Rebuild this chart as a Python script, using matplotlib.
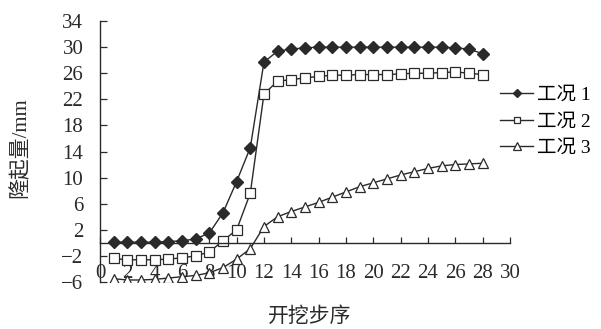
import matplotlib.pyplot as plt

# excavation steps and heave values (mm) for the three cases
steps = list(range(1, 29))
case1 = [0.1, 0.1, 0.1, 0.1, 0.2, 0.3, 0.6, 1.5, 4.6, 9.4, 14.6, 27.7, 29.4, 29.7,
         29.9, 30.0, 30.0, 30.0, 30.0, 30.0, 30.0, 30.0, 30.0, 30.0, 30.0, 29.9, 29.7, 29.0]
case2 = [-2.4, -2.6, -2.6, -2.6, -2.5, -2.3, -2.0, -1.4, 0.3, 2.0, 7.6, 22.8, 24.8, 25.0,
         25.3, 25.5, 25.7, 25.7, 25.8, 25.8, 25.8, 25.9, 26.0, 26.0, 26.1, 26.2, 26.0, 25.8]
case3 = [-5.5, -5.7, -5.7, -5.6, -5.4, -5.2, -5.0, -4.6, -3.8, -2.5, -0.9, 2.5, 4.0, 4.8,
         5.5, 6.2, 7.0, 7.8, 8.6, 9.2, 9.8, 10.4, 10.9, 11.4, 11.8, 12.0, 12.1, 12.2]
labels = ['工况 1', '工况 2', '工况 3']
xticks = list(range(0, 31, 2))
yticks = list(range(-6, 35, 4))

fonts = ['Liberation Serif', 'Noto Sans CJK SC']
plt.rcParams['font.family'] = fonts
ink = '#2a2a2a'

fig = plt.figure(figsize=(6.01, 3.29), dpi=100)
ax = fig.add_axes([0.1664, 0.143, 0.682, 0.793])

line_kw = dict(color=ink, lw=1.0)
ax.plot(steps, case1, marker='D', ms=6.5, mfc=ink, mec=ink, label=labels[0], **line_kw)
ax.plot(steps, case2, marker='s', ms=7, mfc='white', mec=ink, mew=0.9, label=labels[1], **line_kw)
ax.plot(steps, case3, marker='^', ms=7.5, mfc='white', mec=ink, mew=0.9, label=labels[2], **line_kw)

ax.set_xlim(0, 30)
ax.set_ylim(-6, 34)
ax.set_xticks(xticks)
ax.set_yticks(yticks)

ax.spines['top'].set_visible(False)
ax.spines['right'].set_visible(False)
ax.spines['bottom'].set_position(('data', 0))
for s in ('left', 'bottom'):
    ax.spines[s].set_color(ink)
    ax.spines[s].set_linewidth(1.0)

ax.tick_params(axis='x', direction='in', length=4, width=0.9, pad=15,
               labelsize=15, colors=ink)
ax.tick_params(axis='y', direction='in', length=5, width=0.9, pad=12,
               labelsize=15, colors=ink)

fig.text(0.033, 0.55, '隆起量/mm', rotation=90, ha='center', va='center',
         fontsize=15, color=ink, family=fonts)
fig.text(0.515, 0.035, '开挖步序', ha='center', va='center',
         fontsize=15, color=ink, family=fonts)

ax.legend(loc='center left', bbox_to_anchor=(0.832, 0.63), bbox_transform=fig.transFigure,
          frameon=False, handlelength=1.7, handletextpad=0.2, borderaxespad=0,
          labelspacing=0.45, borderpad=0, markerscale=0.7, prop={'family': fonts, 'size': 14})

fig.savefig('out.png', dpi=100)
